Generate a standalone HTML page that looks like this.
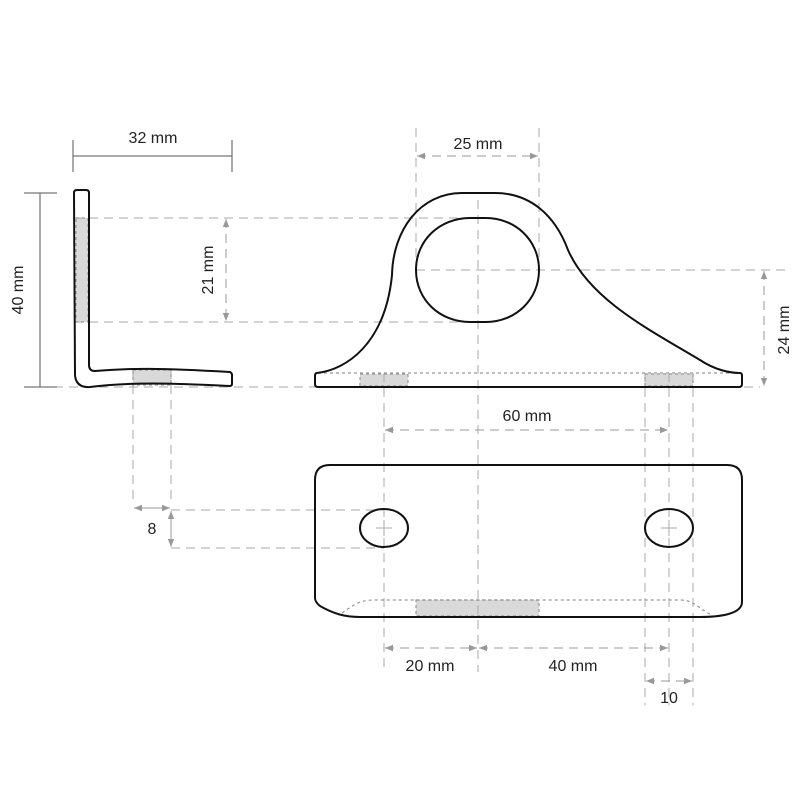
<!DOCTYPE html>
<html><head><meta charset="utf-8"><style>
html,body{margin:0;padding:0;background:#fff;}
svg{display:block;}
text{font-family:"Liberation Sans",sans-serif;font-size:16px;fill:#222;}
</style></head><body>
<svg width="800" height="800" viewBox="0 0 800 800" xmlns="http://www.w3.org/2000/svg">
<defs>
<marker id="a" viewBox="0 0 10 10" refX="10" refY="5" markerWidth="8" markerHeight="8" orient="auto-start-reverse" markerUnits="userSpaceOnUse"><path d="M0,1 L10,5 L0,9 Z" fill="#999"/></marker>
</defs>
<!-- gray fills -->
<g fill="#d9d9d9">
<rect x="76" y="218" width="12" height="104"/>
<rect x="133" y="370" width="38" height="15"/>
<rect x="360" y="374" width="48" height="12"/>
<rect x="645" y="374" width="48" height="12"/>
<rect x="416" y="600" width="123" height="16"/>
</g>
<!-- dashed construction lines -->
<g stroke="#aaa" stroke-width="1" stroke-dasharray="9,6" fill="none">
<line x1="74" y1="218" x2="480" y2="218"/>
<line x1="74" y1="322" x2="480" y2="322"/>
<line x1="24" y1="387" x2="760" y2="387"/>
<line x1="133" y1="370" x2="133" y2="505"/>
<line x1="171" y1="370" x2="171" y2="505"/>
<line x1="171" y1="510" x2="384" y2="510"/>
<line x1="171" y1="548" x2="384" y2="548"/>
<line x1="416" y1="128" x2="416" y2="270"/>
<line x1="539" y1="128" x2="539" y2="270"/>
<line x1="416" y1="270" x2="790" y2="270"/>
<line x1="478" y1="200" x2="478" y2="672"/>
<line x1="384" y1="373" x2="384" y2="672"/>
<line x1="645" y1="373" x2="645" y2="705"/>
<line x1="669" y1="373" x2="669" y2="705"/>
<line x1="693" y1="373" x2="693" y2="705"/>
</g>
<!-- dimension arrows -->
<g stroke="#999" stroke-width="1" stroke-dasharray="9,6" fill="none">
<line x1="226" y1="219" x2="226" y2="321" marker-start="url(#a)" marker-end="url(#a)"/>
<line x1="417" y1="156" x2="538" y2="156" marker-start="url(#a)" marker-end="url(#a)"/>
<line x1="764" y1="271" x2="764" y2="386" marker-start="url(#a)" marker-end="url(#a)"/>
<line x1="385" y1="430" x2="668" y2="430" marker-start="url(#a)" marker-end="url(#a)"/>
<line x1="385" y1="648" x2="477" y2="648" marker-start="url(#a)" marker-end="url(#a)"/>
<line x1="479" y1="648" x2="668" y2="648" marker-start="url(#a)" marker-end="url(#a)"/>
<line x1="646" y1="681" x2="692" y2="681" marker-start="url(#a)" marker-end="url(#a)"/>
</g>
<g stroke="#999" stroke-width="1" fill="none">
<line x1="134" y1="508" x2="170" y2="508" marker-start="url(#a)" marker-end="url(#a)"/>
<line x1="171" y1="511" x2="171" y2="547" marker-start="url(#a)" marker-end="url(#a)"/>
</g>
<!-- solid dims -->
<g stroke="#555" stroke-width="1" fill="none">
<line x1="73" y1="156" x2="232" y2="156"/>
<line x1="73" y1="140" x2="73" y2="172"/>
<line x1="232" y1="140" x2="232" y2="172"/>
<line x1="40" y1="193" x2="40" y2="387"/>
<line x1="24" y1="193" x2="57" y2="193"/>
<line x1="24" y1="387" x2="57" y2="387"/>
</g>
<!-- dotted lines -->
<g stroke="#999" stroke-width="1.2" stroke-dasharray="3,3" fill="none">
<line x1="318" y1="373" x2="740" y2="373"/>
<path d="M342,613 C355,604 360,600 375,600 L680,600 C695,600 700,610 710,614"/>
<rect x="416" y="600" width="123" height="16"/>
<rect x="360" y="374" width="48" height="12"/>
<rect x="645" y="374" width="48" height="12"/>
<rect x="133" y="370" width="38" height="15"/>
<rect x="76" y="218" width="12" height="104"/>
</g>
<!-- shapes -->
<g stroke="#111" stroke-width="2" fill="none">
<path d="M77,190 L86,190 Q89,190 89,193 L89,365 Q89,371 95,371 C130,368 160,368 230,372 Q232,373 232,375 L232,384 Q232,386 229,386 C170,383 130,382 90,387 Q76,388 75,375 L74,193 Q74,190 77,190 Z"/>
<path d="M317,373 C345,370 385,345 392,275 C393,230 420,193 462,193 L495,193 C530,193 555,215 568,250 C590,300 650,330 700,360 C715,370 730,373 740,373 Q742,373 742,376 L742,384 Q742,387 739,387 L318,387 Q315,387 315,384 L315,376 Q315,373 317,373"/>
<path d="M470,218 L486,218 C515,218 539,240 539,270 C539,300 515,322 486,322 L470,322 C440,322 416,300 416,270 C416,240 440,218 470,218 Z"/>
<path d="M330,465 L727,465 Q742,465 742,480 L742,602 C742,614 720,617 700,617 L360,617 C345,617 334,614 320,606 Q315,602 315,598 L315,480 Q315,465 330,465 Z"/>
<ellipse cx="384" cy="528" rx="24" ry="19"/>
<ellipse cx="669" cy="528" rx="24" ry="19"/>
</g>
<g stroke="#aaa" stroke-width="1">
<line x1="376" y1="528" x2="392" y2="528"/><line x1="384" y1="520" x2="384" y2="536"/>
<line x1="661" y1="528" x2="677" y2="528"/><line x1="669" y1="520" x2="669" y2="536"/>
</g>
<!-- labels -->
<text x="153" y="143" text-anchor="middle">32 mm</text>
<text x="478" y="149" text-anchor="middle">25 mm</text>
<text x="527" y="421" text-anchor="middle">60 mm</text>
<text x="152" y="534" text-anchor="middle">8</text>
<text x="430" y="671" text-anchor="middle">20 mm</text>
<text x="573" y="671" text-anchor="middle">40 mm</text>
<text x="669" y="703" text-anchor="middle">10</text>
<text transform="translate(23,290) rotate(-90)" text-anchor="middle">40 mm</text>
<text transform="translate(213,270) rotate(-90)" text-anchor="middle">21 mm</text>
<text transform="translate(789,330) rotate(-90)" text-anchor="middle">24 mm</text>
</svg>
</body></html>
